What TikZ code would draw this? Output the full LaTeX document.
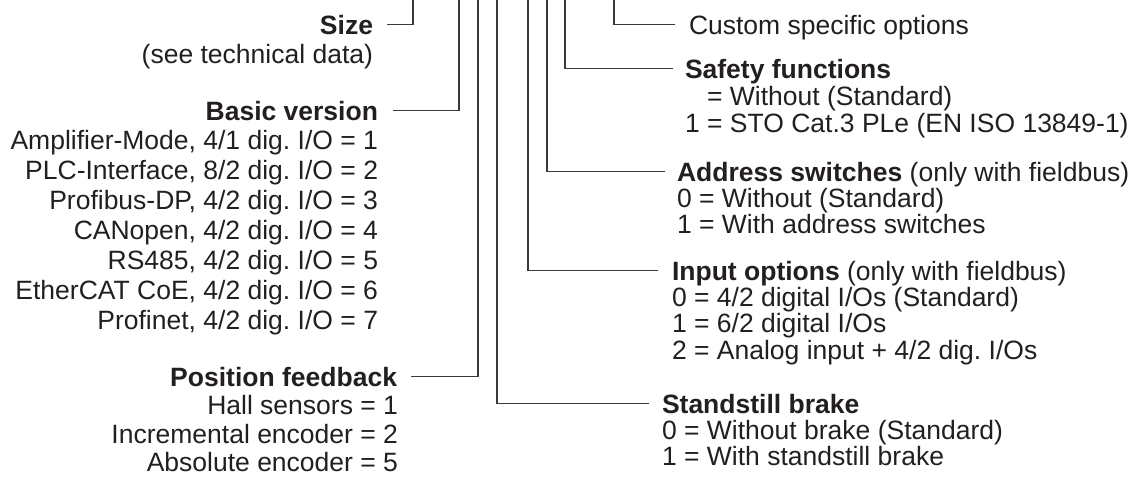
\documentclass[tikz,border=0pt]{standalone}
\usepackage{fontspec}
\setmainfont{Liberation Sans}
\frenchspacing
\definecolor{txt}{HTML}{231F20}
\definecolor{ln}{HTML}{3A3A3A}
\begin{document}
\begin{tikzpicture}[x=1pt,y=-1pt,
  every node/.style={inner sep=0pt, outer sep=0pt, text=txt, font=\fontsize{26.5}{30}\selectfont},
  head/.style={text height=19pt, text depth=0pt},
  lft/.style={anchor=base east},
  rgt/.style={anchor=base west},
  conn/.style={draw=ln, line width=1.3pt}]
\useasboundingbox (0,0) rectangle (1139,477);
% top coordinates of the vertical lines
\coordinate (tSize) at (413,0);
\coordinate (tBasic) at (459,0);
\coordinate (tPos) at (478,0);
\coordinate (tBrake) at (497,0);
\coordinate (tInput) at (528,0);
\coordinate (tAddr) at (547,0);
\coordinate (tSafe) at (565,0);
\coordinate (tCust) at (614,0);
% left side
\node[head,lft] (size) at (373,34) {\bfseries Size};
\node[lft] (seetech) at (373,63) {(see technical data)};
\node[head,lft] (basic) at (378,120) {\bfseries Basic version};
\node[lft] (b1) at (378,149) {Amplifier-Mode, 4/1 dig. I/O = 1};
\node[lft] (b2) at (378,179) {PLC-Interface, 8/2 dig. I/O = 2};
\node[lft] (b3) at (378,209) {Profibus-DP, 4/2 dig. I/O = 3};
\node[lft] (b4) at (378,239) {CANopen, 4/2 dig. I/O = 4};
\node[lft] (b5) at (378,269) {RS485, 4/2 dig. I/O = 5};
\node[lft] (b6) at (378,299) {EtherCAT CoE, 4/2 dig. I/O = 6};
\node[lft] (b7) at (378,329) {Profinet, 4/2 dig. I/O = 7};
\node[head,lft] (pos) at (397,386) {\bfseries Position feedback};
\node[lft] (p1) at (398,414) {Hall sensors = 1};
\node[lft] (p2) at (398,443) {Incremental encoder = 2};
\node[lft] (p3) at (398,471) {Absolute encoder = 5};
% right side
\node[head,rgt] (cust) at (689,34) {Custom specific options};
\node[head,rgt] (safe) at (685,78) {\bfseries Safety functions};
\node[rgt] (s1) at (685,105) {\phantom{1} = Without (Standard)};
\node[rgt] (s2) at (685,132) {1 = STO Cat.3 PLe (EN ISO 13849-1)};
\node[head,rgt] (addr) at (677,181) {\textbf{Address switches} (only with fieldbus)};
\node[rgt] (a1) at (677,207) {0 = Without (Standard)};
\node[rgt] (a2) at (677,233) {1 = With address switches};
\node[head,rgt] (input) at (672,280) {\textbf{Input options} (only with fieldbus)};
\node[rgt] (i1) at (672,306) {0 = 4/2 digital I/Os (Standard)};
\node[rgt] (i2) at (672,332) {1 = 6/2 digital I/Os};
\node[rgt] (i3) at (672,359) {2 = Analog input + 4/2 dig. I/Os};
\node[head,rgt] (brake) at (662,413) {\bfseries Standstill brake};
\node[rgt] (k1) at (662,439) {0 = Without brake (Standard)};
\node[rgt] (k2) at (662,465) {1 = With standstill brake};
% connectors
\draw[conn] ([xshift=14pt]size.east) -| (tSize);
\draw[conn] ([xshift=15pt]basic.east) -| (tBasic);
\draw[conn] ([xshift=14pt]pos.east) -| (tPos);
\draw[conn] ([xshift=-13pt]brake.west) -| (tBrake);
\draw[conn] ([xshift=-14pt]input.west) -| (tInput);
\draw[conn] ([xshift=-12pt]addr.west) -| (tAddr);
\draw[conn] ([xshift=-12pt]safe.west) -| (tSafe);
\draw[conn] ([xshift=-14pt]cust.west) -| (tCust);
\end{tikzpicture}
\end{document}
